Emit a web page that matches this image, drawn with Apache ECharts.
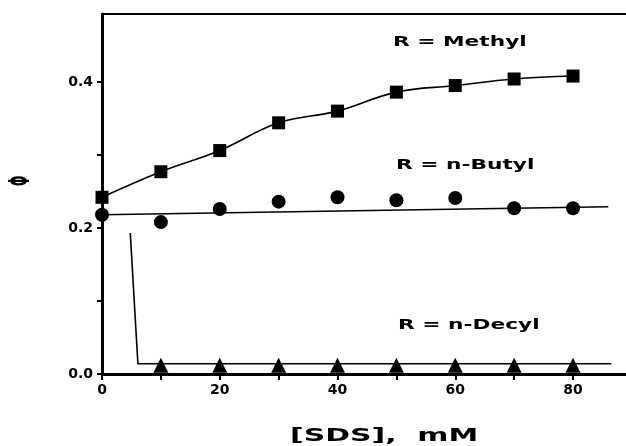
<!DOCTYPE html>
<html><head><meta charset="utf-8">
<script src="https://cdn.jsdelivr.net/npm/echarts@6/dist/echarts.min.js"></script>
<style>html,body{margin:0;padding:0;background:#fff}#c{width:626px;height:446px}</style>
</head><body><div id="c"></div>
<script>
const sds = [0, 10, 20, 30, 40, 50, 60, 70, 80];
const methyl = [0.242, 0.277, 0.306, 0.344, 0.360, 0.386, 0.395, 0.404, 0.408];
const butyl = [0.218, 0.208, 0.226, 0.236, 0.242, 0.238, 0.241, 0.227, 0.227];
const decylX = [10, 20, 30, 40, 50, 60, 70, 80];
const decyl = [0.012, 0.012, 0.012, 0.012, 0.012, 0.012, 0.012, 0.012];
const butylFitX = [0, 86];
const butylFit = [0.218, 0.229];
const decylFitX = [4.8, 6.1, 86.5];
const decylFit = [0.193, 0.014, 0.014];
const xTickValues = [0, 10, 20, 30, 40, 50, 60, 70, 80];
const xTickLabels = [0, 20, 40, 60, 80];
const yTickValues = [0, 0.1, 0.2, 0.3, 0.4];
const yTickLabels = [0, 0.2, 0.4];
const seriesLabels = ['R = Methyl', 'R = n-Butyl', 'R = n-Decyl'];
const xTitle = '[SDS],  mM';
const yTitle = 'Φ';

const zip = (xs, ys) => xs.map((x, i) => [x, ys[i]]);
const font = '"DejaVu Sans", Verdana, sans-serif';
const chart = echarts.init(document.getElementById('c'));
chart.setOption({
  animation: false,
  backgroundColor: '#fff',
  grid: {left: 102, right: 0, top: 14, bottom: 72, outerBoundsMode: 'none', containLabel: false},
  xAxis: [{
    type: 'value', min: 0, max: 89,
    axisLine: {show: true, lineStyle: {color: '#000', width: 3}},
    axisTick: {show: true, length: 6, customValues: xTickValues, lineStyle: {color: '#000', width: 2}},
    splitLine: {show: false},
    axisLabel: {color: '#000', fontFamily: font, fontWeight: 'bold', fontSize: 14, margin: 9,
      customValues: xTickLabels, formatter: v => String(v)}
  }, {
    type: 'value', position: 'top', min: 0, max: 89,
    axisLine: {show: true, lineStyle: {color: '#000', width: 2}},
    axisTick: {show: false}, axisLabel: {show: false}, splitLine: {show: false}
  }],
  yAxis: {
    type: 'value', min: 0, max: 0.493,
    axisLine: {show: true, lineStyle: {color: '#000', width: 3}},
    axisTick: {show: true, length: 5, customValues: yTickValues, lineStyle: {color: '#000', width: 2}},
    splitLine: {show: false},
    axisLabel: {color: '#000', fontFamily: font, fontWeight: 'bold', fontSize: 14, margin: 9,
      customValues: yTickLabels, formatter: v => v.toFixed(1)}
  },
  series: [
    {type: 'line', data: zip(sds, methyl), symbol: 'rect', symbolSize: 13, smooth: 0.4,
     itemStyle: {color: '#000', opacity: 1}, lineStyle: {color: '#000', width: 1.6}},
    {type: 'line', data: zip(butylFitX, butylFit), symbol: 'none',
     lineStyle: {color: '#000', width: 1.6}},
    {type: 'scatter', data: zip(sds, butyl), symbol: 'circle', symbolSize: 14,
     itemStyle: {color: '#000', opacity: 1}},
    {type: 'line', data: zip(decylFitX, decylFit), symbol: 'none',
     lineStyle: {color: '#000', width: 1.6}},
    {type: 'scatter', data: zip(decylX, decyl), symbol: 'triangle', symbolSize: [15, 15],
     itemStyle: {color: '#000', opacity: 1}}
  ],
  graphic: [
    {type: 'text', x: 393, y: 35, scaleX: 1.55,
     style: {text: seriesLabels[0], fill: '#000', font: 'bold 14px ' + font}},
    {type: 'text', x: 396, y: 158, scaleX: 1.55,
     style: {text: seriesLabels[1], fill: '#000', font: 'bold 14px ' + font}},
    {type: 'text', x: 398, y: 318, scaleX: 1.55,
     style: {text: seriesLabels[2], fill: '#000', font: 'bold 14px ' + font}},
    {type: 'text', x: 290, y: 427, scaleX: 1.66,
     style: {text: xTitle, fill: '#000', font: 'bold 18px ' + font}},
    {type: 'text', x: 22, y: 181, rotation: Math.PI / 2, scaleX: 0.45,
     style: {text: yTitle, fill: '#000', font: 'bold 28px ' + font, align: 'center', verticalAlign: 'middle'}}
  ]
});
</script></body></html>
